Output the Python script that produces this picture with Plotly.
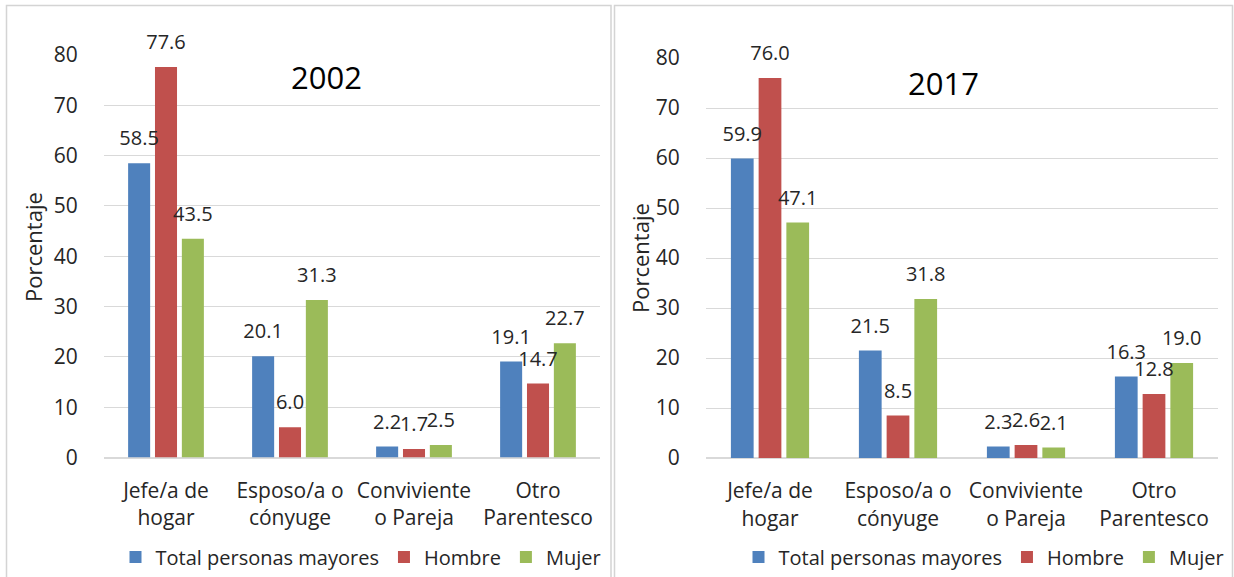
import plotly.graph_objects as go
from plotly.subplots import make_subplots

categories = ["Jefe/a de<br>hogar", "Esposo/a o<br>cónyuge", "Conviviente<br>o Pareja", "Otro<br>Parentesco"]
series_names = ["Total personas mayores", "Hombre", "Mujer"]
colors = ["#4F81BD", "#C0504D", "#9BBB59"]

total_2002 = [58.5, 20.1, 2.2, 19.1]
hombre_2002 = [77.6, 6.0, 1.7, 14.7]
mujer_2002 = [43.5, 31.3, 2.5, 22.7]

total_2017 = [59.9, 21.5, 2.3, 16.3]
hombre_2017 = [76.0, 8.5, 2.6, 12.8]
mujer_2017 = [47.1, 31.8, 2.1, 19.0]

panels = [("2002", [total_2002, hombre_2002, mujer_2002]),
          ("2017", [total_2017, hombre_2017, mujer_2017])]

W, H = 1234, 577
FONT = "Open Sans"
TXT = "#262626"
GRID = "#D9D9D9"
GAP = 0.35

fig = make_subplots(rows=1, cols=2)

for p, (year, data) in enumerate(panels):
    for s, (name, vals) in enumerate(zip(series_names, data)):
        fig.add_trace(go.Bar(
            x=categories, y=vals, name=name,
            marker=dict(color=colors[s], line=dict(width=0)),
            legend="legend" if p == 0 else "legend2",
            hoverinfo="skip", offsetgroup=f"s{s}",
        ), row=1, col=p + 1)
    # value labels, grouped the same way as the bars
    for s, (name, vals) in enumerate(zip(series_names, data)):
        fig.add_trace(go.Scatter(
            x=categories, y=vals, mode="markers+text",
            text=[f"{v:.1f}" for v in vals], textposition="top center",
            textfont=dict(size=20, color=TXT, family=FONT),
            marker=dict(size=19, opacity=0),
            cliponaxis=False, showlegend=False, hoverinfo="skip",
            offsetgroup=f"s{s}",
        ), row=1, col=p + 1)

def px_x(v):
    return v / W

def px_y(v):
    return 1 - v / H

fig.update_layout(
    xaxis=dict(domain=[px_x(104), px_x(600)]),
    yaxis=dict(domain=[px_y(457.5), px_y(55)]),
    xaxis2=dict(domain=[px_x(706), px_x(1218)]),
    yaxis2=dict(domain=[px_y(458), px_y(58)]),
)

for ax in ["xaxis", "xaxis2"]:
    fig.layout[ax].update(
        showline=True, linecolor=GRID, linewidth=1, showgrid=False,
        ticks="outside", ticklen=14, tickcolor="rgba(0,0,0,0)",
        tickfont=dict(size=21, color=TXT, family=FONT),
    )
for ax in ["yaxis", "yaxis2"]:
    fig.layout[ax].update(
        range=[0, 80], dtick=10, showline=False, showgrid=True,
        gridcolor=GRID, gridwidth=1, zeroline=True, zerolinecolor=GRID,
        ticks="outside", ticklen=21, tickcolor="rgba(0,0,0,0)",
        tickfont=dict(size=21, color=TXT, family=FONT),
    )

fig.update_layout(
    width=W, height=H, margin=dict(l=0, r=0, t=0, b=0, autoexpand=False),
    paper_bgcolor="white", plot_bgcolor="white",
    barmode="group", bargap=GAP, bargroupgap=0.18,
    scattermode="group", scattergap=GAP,
    font=dict(family=FONT, color=TXT),
    legend=dict(orientation="h", x=px_x(361), xanchor="center", y=px_y(557), yanchor="middle",
                font=dict(size=20, color=TXT, family=FONT), itemwidth=30, bgcolor="rgba(0,0,0,0)"),
    legend2=dict(orientation="h", x=px_x(984), xanchor="center", y=px_y(557), yanchor="middle",
                 font=dict(size=20, color=TXT, family=FONT), itemwidth=30, bgcolor="rgba(0,0,0,0)"),
)

fig.add_shape(type="rect", xref="paper", yref="paper",
              x0=px_x(6.5), x1=px_x(611), y0=-0.05, y1=px_y(5.5),
              line=dict(color="#D4D4D4", width=1.5), fillcolor="rgba(0,0,0,0)", layer="below")
fig.add_shape(type="rect", xref="paper", yref="paper",
              x0=px_x(614.5), x1=px_x(1232.5), y0=-0.05, y1=px_y(5.5),
              line=dict(color="#D4D4D4", width=1.5), fillcolor="rgba(0,0,0,0)", layer="below")

for year, cx, cy in [("2002", 326, 77), ("2017", 943, 83)]:
    fig.add_annotation(text=year, xref="paper", yref="paper", x=px_x(cx), y=px_y(cy),
                       xanchor="center", yanchor="middle", showarrow=False,
                       font=dict(size=31, color="#000000", family=FONT))

for cx, cy in [(33, 247), (640, 258)]:
    fig.add_annotation(text="Porcentaje", xref="paper", yref="paper", x=px_x(cx), y=px_y(cy),
                       xanchor="center", yanchor="middle", showarrow=False, textangle=-90,
                       font=dict(size=22, color=TXT, family=FONT))

fig.write_html("out.html")
